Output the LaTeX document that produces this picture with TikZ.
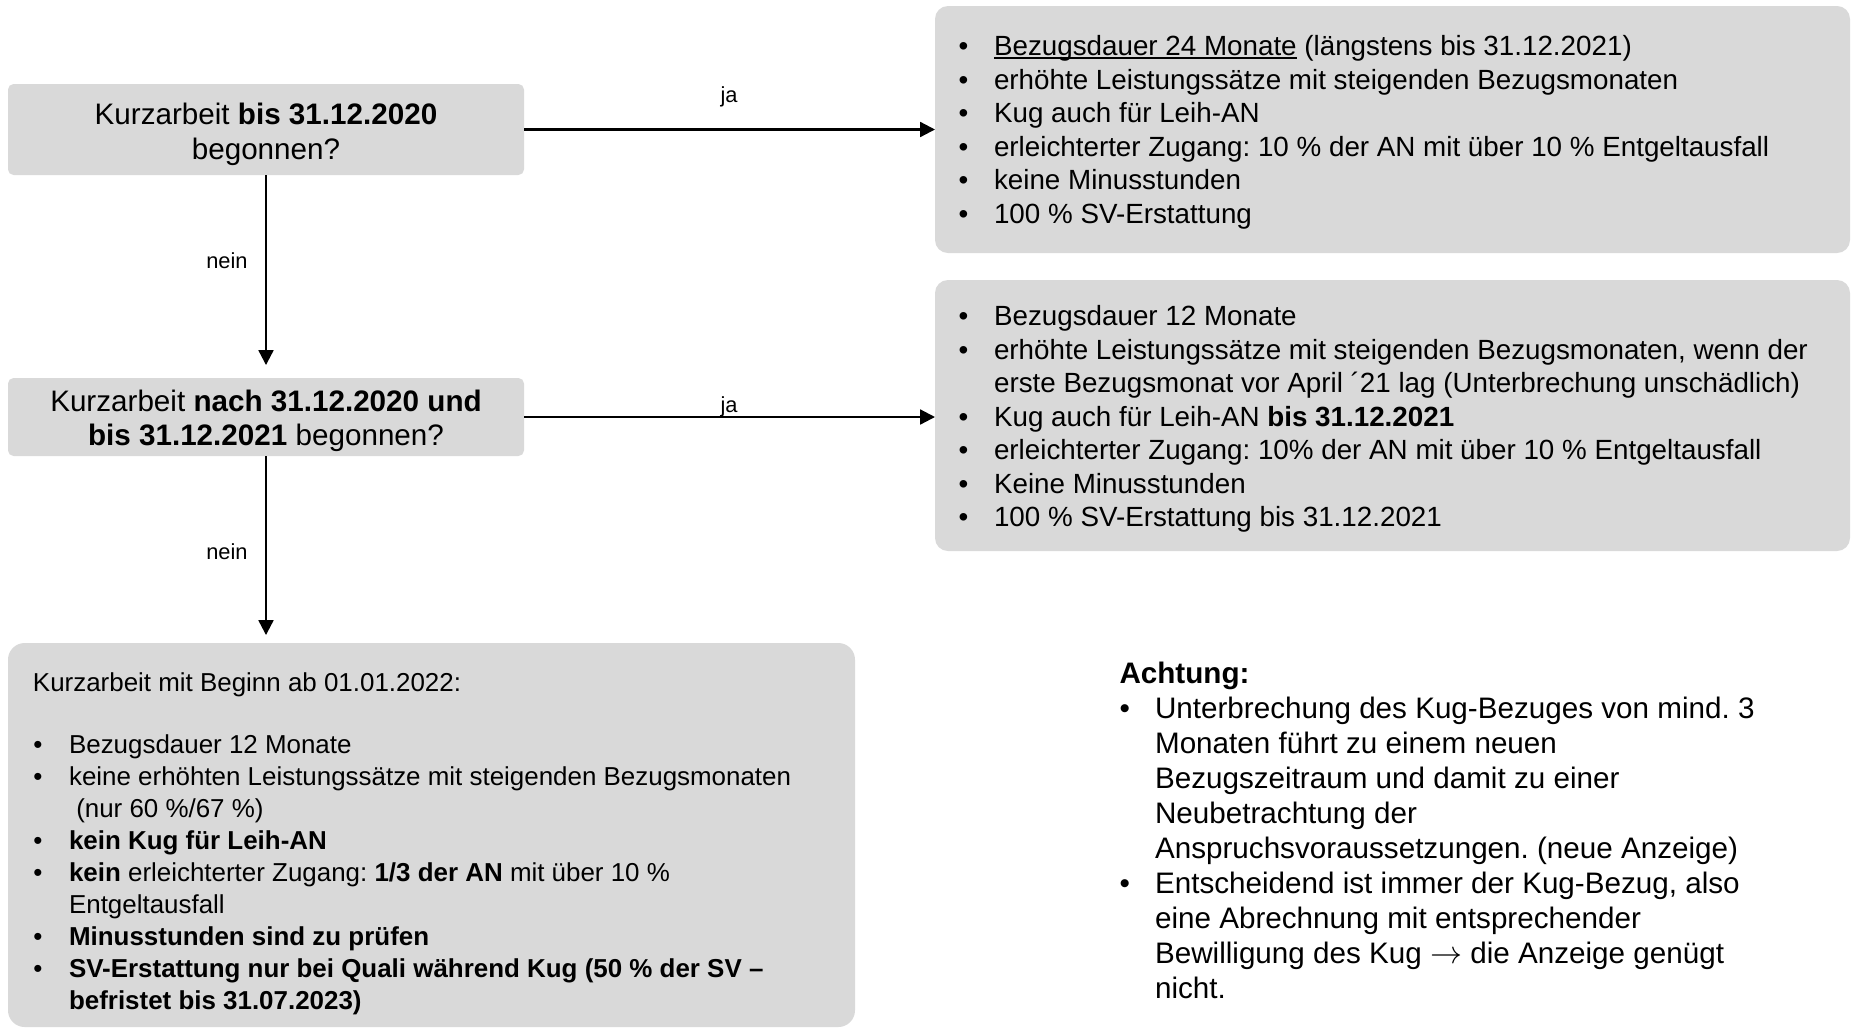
\documentclass[tikz,border=0pt]{standalone}
\usepackage{fontspec}
\setmainfont{Liberation Sans}
\usetikzlibrary{arrows.meta,fit}
\definecolor{boxgray}{RGB}{217,217,217}
\newlength\bw \setlength\bw{19.2pt}
\newcommand\bu{\makebox[\bw][l]{\textbullet}}
\newcommand\ind{\hskip\bw}
\newcommand\myul[1]{\setbox0=\hbox{#1}\rlap{\rule[-1.8pt]{\wd0}{0.75pt}}\box0\relax}
\newcommand\stack[2]{\vtop{\baselineskip=#1\lineskiplimit=-\maxdimen #2}}
\frenchspacing
\begin{document}
\begin{tikzpicture}[x=0.54pt,y=-0.54pt,
  gbox/.style={fill=boxgray, inner sep=0pt, outer sep=0pt},
  txt/.style={inner sep=0pt, outer sep=0pt, text=black},
  lbl/.style={inner sep=0pt, font=\fontsize{11.8}{14}\selectfont},
  arr/.style={line width=1.2pt, -{Triangle[length=8pt,width=8pt]}}]
\useasboundingbox (0,0) rectangle (1851,1029);
% boxes
\node[gbox, rounded corners=3pt, fit={(8,84)(524,175)}] (q1) {};
\node[gbox, rounded corners=3pt, fit={(8,378)(524,456)}] (q2) {};
\node[gbox, rounded corners=7pt, fit={(935,6)(1850,253)}] (r1) {};
\node[gbox, rounded corners=7pt, fit={(935,280)(1850,551)}] (r2) {};
\node[gbox, rounded corners=9pt, fit={(8,643)(855,1027)}] (b) {};
% question texts
\node[txt, align=center, font=\fontsize{16}{19.2}\selectfont] (q1t) at ([yshift=-2.7pt]q1.center)
  {Kurzarbeit \textbf{bis 31.12.2020}\\begonnen?};
\node[txt, align=center, font=\fontsize{16}{18.6}\selectfont] (q2t) at ([yshift=-2.2pt]q2.center)
  {Kurzarbeit \textbf{nach 31.12.2020 und}\\\textbf{bis 31.12.2021} begonnen?};
% right box 1
\node[txt, anchor=base west] (r1t) at (958.5,55.5) {\fontsize{15}{18.1}\selectfont\stack{18.1pt}{%
  \hbox{\bu\myul{Bezugsdauer 24 Monate} (längstens bis 31.12.2021)}
  \hbox{\bu erhöhte Leistungssätze mit steigenden Bezugsmonaten}
  \hbox{\bu Kug auch für Leih-AN}
  \hbox{\bu erleichterter Zugang: 10 \% der AN mit über 10 \% Entgeltausfall}
  \hbox{\bu keine Minusstunden}
  \hbox{\bu 100 \% SV-Erstattung}}};
% right box 2
\node[txt, anchor=base west] (r2t) at (958.5,325.5) {\fontsize{15}{18.1}\selectfont\stack{18.1pt}{%
  \hbox{\bu Bezugsdauer 12 Monate}
  \hbox{\bu erhöhte Leistungssätze mit steigenden Bezugsmonaten, wenn der}
  \hbox{\ind erste Bezugsmonat vor April ´21 lag (Unterbrechung unschädlich)}
  \hbox{\bu Kug auch für Leih-AN \textbf{bis 31.12.2021}}
  \hbox{\bu erleichterter Zugang: 10\% der AN mit über 10 \% Entgeltausfall}
  \hbox{\bu Keine Minusstunden}
  \hbox{\bu 100 \% SV-Erstattung bis 31.12.2021}}};
% bottom box
\node[txt, anchor=base west, font=\fontsize{14}{17.3}\selectfont] (bh) at (33,691.5)
  {Kurzarbeit mit Beginn ab 01.01.2022:};
\node[txt, anchor=base west] (bt) at (33.5,753) {\fontsize{14}{17.3}\selectfont\stack{17.3pt}{%
  \hbox{\bu Bezugsdauer 12 Monate}
  \hbox{\bu keine erhöhten Leistungssätze mit steigenden Bezugsmonaten}
  \hbox{\ind\ (nur 60 \%/67 \%)}
  \hbox{\bu\textbf{kein Kug für Leih-AN}}
  \hbox{\bu\textbf{kein} erleichterter Zugang: \textbf{1/3 der AN} mit über 10 \%}
  \hbox{\ind Entgeltausfall}
  \hbox{\bu\textbf{Minusstunden sind zu prüfen}}
  \hbox{\bu\textbf{SV-Erstattung nur bei Quali während Kug (50 \% der SV –}}
  \hbox{\ind\textbf{befristet bis 31.07.2023)}}}};
% Achtung
\node[txt, anchor=base west] (at) at (1119.5,683) {\fontsize{16}{18.9}\selectfont\stack{18.9pt}{%
  \hbox{\textbf{Achtung:}}
  \hbox{\bu Unterbrechung des Kug-Bezuges von mind. 3}
  \hbox{\ind Monaten führt zu einem neuen}
  \hbox{\ind Bezugszeitraum und damit zu einer}
  \hbox{\ind Neubetrachtung der}
  \hbox{\ind Anspruchsvoraussetzungen. (neue Anzeige)}
  \hbox{\bu Entscheidend ist immer der Kug-Bezug, also}
  \hbox{\ind eine Abrechnung mit entsprechender}
  \hbox{\ind Bewilligung des Kug $\rightarrow$ die Anzeige genügt}
  \hbox{\ind nicht.}}};
% connectors
\draw[arr] (q1.east) -- (q1.east -| r1.west);
\draw[arr] (q2.east) -- (q2.east -| r2.west);
\draw[arr, shorten >=7pt] (q1.south) -- (q2.north);
\draw[arr, shorten >=4.3pt] (q2.south) -- (q2.south |- b.north);
% labels
\node[lbl] (ja1) at (729,96.5) {ja};
\node[lbl] (ja2) at (729,406.5) {ja};
\node[lbl] (nein1) at (227,261) {nein};
\node[lbl] (nein2) at (227,552) {nein};
\end{tikzpicture}
\end{document}
